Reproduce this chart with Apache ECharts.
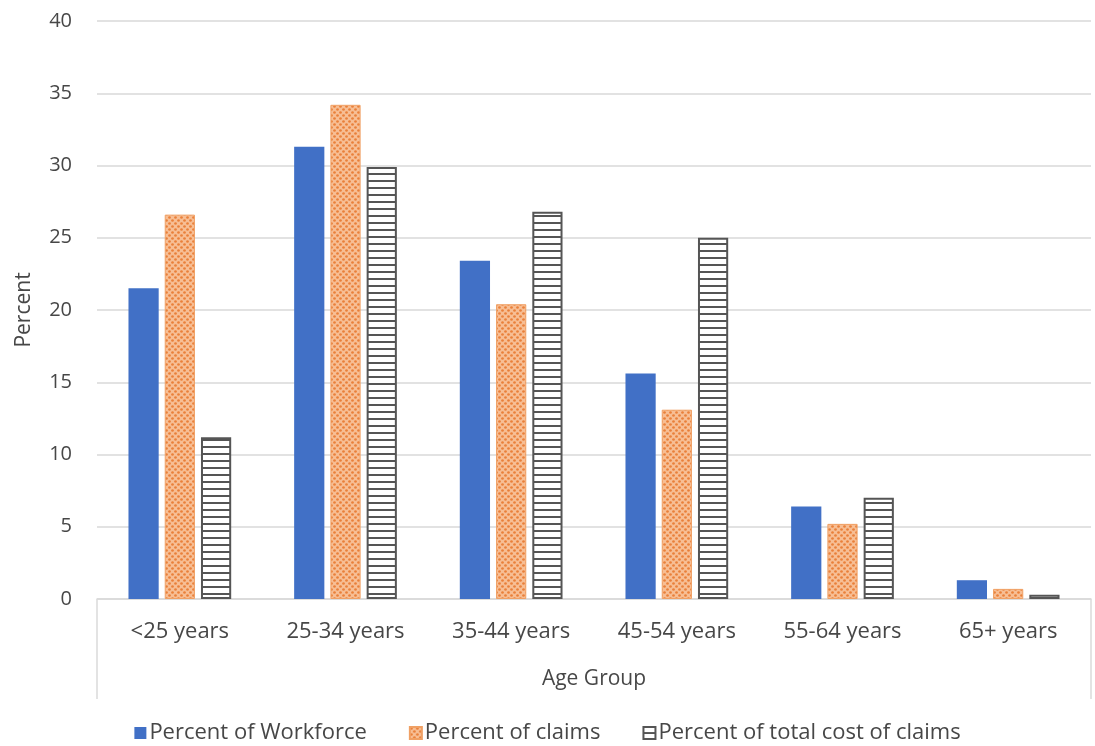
<!DOCTYPE html>
<html>
<head>
<meta charset="utf-8">
<title>Workforce and claims by age group</title>
<script src="https://cdn.jsdelivr.net/npm/echarts@6.0.0/dist/echarts.min.js"></script>
<style>
  html, body { margin: 0; padding: 0; background: #ffffff; }
  #chart { width: 1095px; height: 746px; }
</style>
</head>
<body>
<div id="chart"></div>
<script>
// Age groups on the category axis
const ageGroups = ['<25 years', '25-34 years', '35-44 years', '45-54 years', '55-64 years', '65+ years'];

// Share of each age group (percent)
const workforcePct = [21.5, 31.3, 23.4, 15.6, 6.4, 1.3];
const claimsPct = [26.6, 34.2, 20.4, 13.1, 5.2, 0.7];
const costPct = [11.2, 29.9, 26.8, 25.0, 7.0, 0.3];

// Value axis ticks
const yMin = 0, yMax = 40, yStep = 5;

const textColor = '#474747';
const fontFamily = '"Open Sans", "Noto Sans", sans-serif';

// Dotted fill for the claims series
function dotPattern() {
  const c = document.createElement('canvas');
  c.width = 6; c.height = 6;
  const g = c.getContext('2d');
  g.fillStyle = '#F7BE94';
  g.fillRect(0, 0, 6, 6);
  g.fillStyle = '#E9803A';
  [[1.5, 1.5], [4.5, 4.5], [4.5, -1.5], [-1.5, 4.5], [7.5, 1.5], [1.5, 7.5]].forEach(function (p) {
    g.beginPath();
    g.arc(p[0], p[1], 1.35, 0, Math.PI * 2);
    g.fill();
  });
  return c;
}

// Horizontal stripes for the total-cost series
function stripePattern() {
  const c = document.createElement('canvas');
  c.width = 8; c.height = 7;
  const g = c.getContext('2d');
  g.fillStyle = '#ffffff';
  g.fillRect(0, 0, 8, 7);
  g.fillStyle = '#555555';
  g.fillRect(0, 5, 8, 2);
  return c;
}

const chart = echarts.init(document.getElementById('chart'), null, { renderer: 'canvas' });

chart.setOption({
  backgroundColor: '#ffffff',
  animation: false,
  textStyle: { fontFamily: fontFamily, color: textColor },
  grid: { left: 97, right: 4, top: 21, bottom: 147, containLabel: false },
  legend: {
    top: 717,
    left: 'center',
    itemWidth: 12,
    itemHeight: 12,
    itemGap: 42,
    icon: 'rect',
    textStyle: { fontSize: 22, color: textColor, fontFamily: fontFamily, padding: [0, 0, 0, -2] },
    data: ['Percent of Workforce', 'Percent of claims', 'Percent of total cost of claims']
  },
  xAxis: {
    type: 'category',
    data: ageGroups,
    name: 'Age Group',
    nameLocation: 'middle',
    nameGap: 70,
    nameTextStyle: { fontSize: 21, color: textColor },
    axisLine: { show: true, lineStyle: { color: '#D9D9D9', width: 1.5 } },
    axisTick: {
      show: true,
      length: 100,
      interval: function (index) { return index === 0; },
      lineStyle: { color: '#DADADA', width: 1.5 }
    },
    axisLabel: { fontSize: 22, color: textColor, margin: 22 }
  },
  yAxis: {
    type: 'value',
    min: yMin,
    max: yMax,
    interval: yStep,
    name: 'Percent',
    nameLocation: 'middle',
    nameGap: 62,
    nameRotate: 90,
    nameTextStyle: { fontSize: 21, color: textColor },
    axisLine: { show: false },
    axisTick: { show: false },
    axisLabel: { fontSize: 20, color: textColor, margin: 25 },
    splitLine: { lineStyle: { color: '#D9D9D9', width: 1.5 } }
  },
  series: [
    {
      name: 'Percent of Workforce',
      type: 'bar',
      data: workforcePct,
      barGap: '20%',
      barCategoryGap: '38%',
      itemStyle: { color: '#4170C6' }
    },
    {
      name: 'Percent of claims',
      type: 'bar',
      data: claimsPct,
      barGap: '20%',
      barCategoryGap: '38%',
      itemStyle: {
        color: { image: dotPattern(), repeat: 'repeat' },
        borderColor: '#F0A064',
        borderWidth: 1
      }
    },
    {
      name: 'Percent of total cost of claims',
      type: 'bar',
      data: costPct,
      barGap: '20%',
      barCategoryGap: '38%',
      itemStyle: {
        color: { image: stripePattern(), repeat: 'repeat' },
        borderColor: '#555555',
        borderWidth: 2
      }
    }
  ]
});
</script>
</body>
</html>
